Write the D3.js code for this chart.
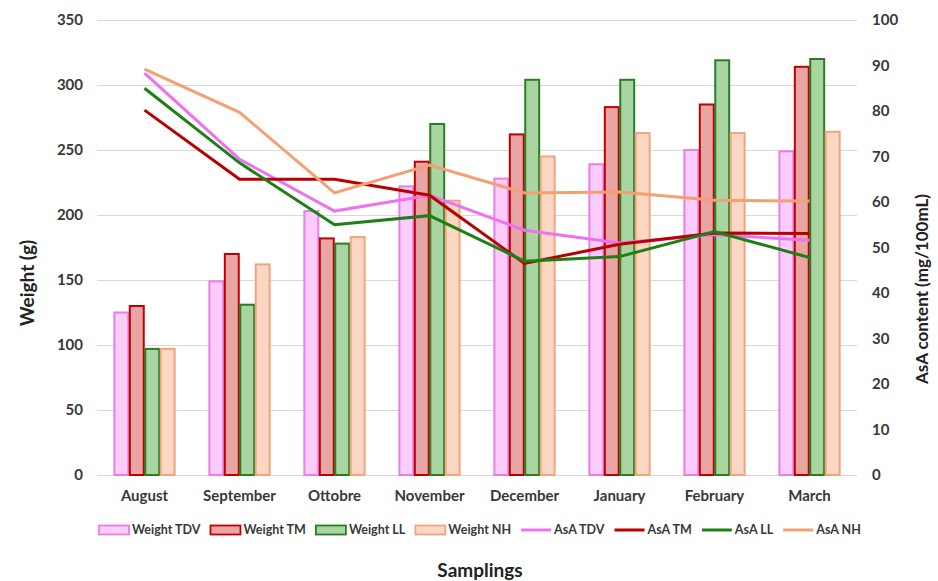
<!DOCTYPE html>
<html>
<head>
<meta charset="utf-8">
<script src="https://cdn.jsdelivr.net/npm/d3@7"></script>
<style>
  body { margin: 0; background: #fff; }
  svg text { font-family: Lato, "Open Sans", sans-serif; font-weight: bold; }
</style>
</head>
<body>
<div id="chart"></div>
<script>
// Data
var months = ["August", "September", "Ottobre", "November", "December", "January", "February", "March"];
var barSeries = ["Weight TDV", "Weight TM", "Weight LL", "Weight NH"];
var lineSeries = ["AsA TDV", "AsA TM", "AsA LL", "AsA NH"];

var weightTDV = [125, 149, 203, 222, 228, 239, 250, 249];
var weightTM  = [130, 170, 182, 241, 262, 283, 285, 314];
var weightLL  = [97, 131, 178, 270, 304, 304, 319, 320];
var weightNH  = [97, 162, 183, 211, 245, 263, 263, 264];

var asaTDV = [88.3, 69.4, 58, 61.5, 53.8, 51, 52.8, 51.6];
var asaTM  = [80.2, 65, 65, 61.5, 46.5, 50.7, 53.2, 53.1];
var asaLL  = [85, 68.6, 55, 57, 47, 48, 53.5, 47.8];
var asaNH  = [89.2, 79.7, 62, 68.1, 62, 62.2, 60.4, 60.2];

var leftTicks = [0, 50, 100, 150, 200, 250, 300, 350];
var rightTicks = [0, 10, 20, 30, 40, 50, 60, 70, 80, 90, 100];

// styles
var barFill   = ["#fcccfc", "#e9a4a4", "#a9d5a3", "#fcd8c4"];
var barStroke = ["#e680e6", "#c00000", "#2a7d22", "#f0a57c"];
var lineColor = ["#ee72ee", "#b80000", "#1f7f17", "#f3a073"];

var W = 938, H = 581;
var plotLeft = 97, plotRight = 857, plotTop = 20, plotBottom = 475;

var svg = d3.select("#chart").append("svg")
    .attr("width", W).attr("height", H);

svg.append("rect").attr("width", W).attr("height", H).attr("fill", "#fff");

var x0 = d3.scaleBand().domain(months).range([plotLeft, plotRight])
    .paddingInner(0.35).paddingOuter(0.175);
var x1 = d3.scaleBand().domain(barSeries).range([0, x0.bandwidth()]);
var yL = d3.scaleLinear().domain([0, 350]).range([plotBottom, plotTop]);
var yR = d3.scaleLinear().domain([0, 100]).range([plotBottom, plotTop]);

// grid + left axis
var gL = svg.append("g").attr("transform", "translate(" + plotLeft + ",0)")
    .call(d3.axisLeft(yL).tickValues(leftTicks).tickSize(-(plotRight - plotLeft)).tickPadding(14));
gL.select(".domain").remove();
gL.selectAll("line").attr("stroke", "#d9d9d9").attr("stroke-width", 1);
gL.selectAll("text").attr("fill", "#383838").style("font-size", "15px");

// right axis
var gR = svg.append("g").attr("transform", "translate(" + plotRight + ",0)")
    .call(d3.axisRight(yR).tickValues(rightTicks).tickSize(0).tickPadding(15));
gR.select(".domain").remove();
gR.selectAll("text").attr("fill", "#383838").style("font-size", "15px");

// bottom axis
var gB = svg.append("g").attr("transform", "translate(0," + plotBottom + ")")
    .call(d3.axisBottom(x0).tickSize(0).tickPadding(15));
gB.select(".domain").remove();
gB.selectAll("text").attr("fill", "#383838").style("font-size", "15px");

// bars
var weights = [weightTDV, weightTM, weightLL, weightNH];
barSeries.forEach(function(s, si) {
  svg.append("g").selectAll("rect")
    .data(weights[si])
    .enter()
    .append("rect")
    .attr("x", function(d, i) { return x0(months[i]) + x1(s) + 0.75; })
    .attr("y", function(d) { return yL(d); })
    .attr("width", x1.bandwidth() - 1.5)
    .attr("height", function(d) { return yL(0) - yL(d); })
    .attr("fill", barFill[si])
    .attr("stroke", barStroke[si])
    .attr("stroke-width", 2);
});

// lines
var asa = [asaTDV, asaTM, asaLL, asaNH];
var line = d3.line()
    .x(function(d, i) { return x0(months[i]) + x0.bandwidth() / 2; })
    .y(function(d) { return yR(d); });
lineSeries.forEach(function(s, si) {
  svg.append("path")
    .datum(asa[si])
    .attr("d", line)
    .attr("fill", "none")
    .attr("stroke", lineColor[si])
    .attr("stroke-width", 3);
});

// axis titles
svg.append("text")
    .attr("transform", "translate(34,283) rotate(-90)")
    .attr("text-anchor", "middle")
    .attr("fill", "#222").style("font-size", "19px")
    .text("Weight (g)");
svg.append("text")
    .attr("transform", "translate(928,289) rotate(-90)")
    .attr("text-anchor", "middle")
    .attr("fill", "#222").style("font-size", "17px")
    .text("AsA content (mg/100mL)");
svg.append("text")
    .attr("x", 480).attr("y", 577)
    .attr("text-anchor", "middle")
    .attr("fill", "#222").style("font-size", "19px")
    .text("Samplings");

// legend
var legend = svg.append("g");
var lx = 99, ly = 530;
barSeries.concat(lineSeries).forEach(function(s, i) {
  var g = legend.append("g").attr("transform", "translate(" + lx + "," + ly + ")");
  if (i < 4) {
    g.append("rect").attr("x", 0).attr("y", -4.5).attr("width", 30).attr("height", 9)
      .attr("fill", barFill[i]).attr("stroke", barStroke[i]).attr("stroke-width", 1.8);
  } else {
    g.append("line").attr("x1", 0).attr("x2", 30).attr("y1", 0).attr("y2", 0)
      .attr("stroke", lineColor[i - 4]).attr("stroke-width", 3);
  }
  var t = g.append("text").attr("x", 33).attr("y", 0).attr("dy", "0.35em")
    .attr("fill", "#383838").style("font-size", "12.5px")
    .text(s);
  lx += 33 + t.node().getComputedTextLength() + 10;
});
</script>
</body>
</html>
